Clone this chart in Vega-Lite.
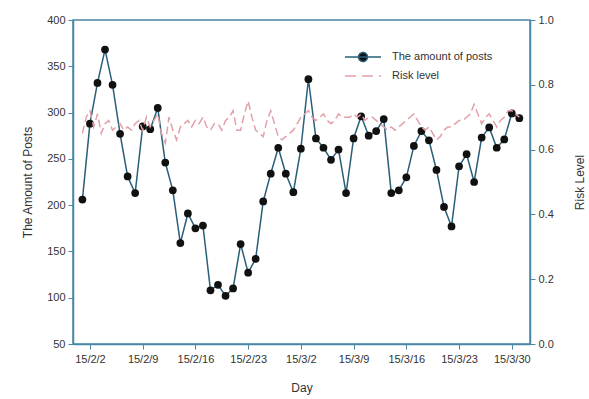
{
  "$schema": "https://vega.github.io/schema/vega-lite/v6.json",
  "width": 457,
  "height": 324,
  "autosize": {"type": "none"},
  "padding": {"left": 73, "top": 20, "right": 59, "bottom": 55},
  "background": "white",
  "config": {
    "font": "Liberation Sans",
    "view": {"stroke": "#4a86a6", "strokeWidth": 1.5},
    "axis": {"grid": false, "domainColor": "#4a86a6", "domainWidth": 1.5, "tickColor": "#4a86a6", "tickSize": 5, "labelColor": "#333333", "titleColor": "#333333", "labelFontSize": 11, "titleFontSize": 12, "titleFontWeight": "normal"}
  },
  "datasets": {
    "posts": [
      {"d": "2015-02-01T00:00:00Z", "v": 206}, {"d": "2015-02-02T00:00:00Z", "v": 288}, {"d": "2015-02-03T00:00:00Z", "v": 332},
      {"d": "2015-02-04T00:00:00Z", "v": 368}, {"d": "2015-02-05T00:00:00Z", "v": 330}, {"d": "2015-02-06T00:00:00Z", "v": 277},
      {"d": "2015-02-07T00:00:00Z", "v": 231}, {"d": "2015-02-08T00:00:00Z", "v": 213}, {"d": "2015-02-09T00:00:00Z", "v": 285},
      {"d": "2015-02-10T00:00:00Z", "v": 282}, {"d": "2015-02-11T00:00:00Z", "v": 305}, {"d": "2015-02-12T00:00:00Z", "v": 246},
      {"d": "2015-02-13T00:00:00Z", "v": 216}, {"d": "2015-02-14T00:00:00Z", "v": 159}, {"d": "2015-02-15T00:00:00Z", "v": 191},
      {"d": "2015-02-16T00:00:00Z", "v": 175}, {"d": "2015-02-17T00:00:00Z", "v": 178}, {"d": "2015-02-18T00:00:00Z", "v": 108},
      {"d": "2015-02-19T00:00:00Z", "v": 114}, {"d": "2015-02-20T00:00:00Z", "v": 102}, {"d": "2015-02-21T00:00:00Z", "v": 110},
      {"d": "2015-02-22T00:00:00Z", "v": 158}, {"d": "2015-02-23T00:00:00Z", "v": 127}, {"d": "2015-02-24T00:00:00Z", "v": 142},
      {"d": "2015-02-25T00:00:00Z", "v": 204}, {"d": "2015-02-26T00:00:00Z", "v": 234}, {"d": "2015-02-27T00:00:00Z", "v": 262},
      {"d": "2015-02-28T00:00:00Z", "v": 234}, {"d": "2015-03-01T00:00:00Z", "v": 214}, {"d": "2015-03-02T00:00:00Z", "v": 261},
      {"d": "2015-03-03T00:00:00Z", "v": 336}, {"d": "2015-03-04T00:00:00Z", "v": 272}, {"d": "2015-03-05T00:00:00Z", "v": 262},
      {"d": "2015-03-06T00:00:00Z", "v": 249}, {"d": "2015-03-07T00:00:00Z", "v": 260}, {"d": "2015-03-08T00:00:00Z", "v": 213},
      {"d": "2015-03-09T00:00:00Z", "v": 272}, {"d": "2015-03-10T00:00:00Z", "v": 296}, {"d": "2015-03-11T00:00:00Z", "v": 275},
      {"d": "2015-03-12T00:00:00Z", "v": 280}, {"d": "2015-03-13T00:00:00Z", "v": 293}, {"d": "2015-03-14T00:00:00Z", "v": 213},
      {"d": "2015-03-15T00:00:00Z", "v": 216}, {"d": "2015-03-16T00:00:00Z", "v": 230}, {"d": "2015-03-17T00:00:00Z", "v": 264},
      {"d": "2015-03-18T00:00:00Z", "v": 280}, {"d": "2015-03-19T00:00:00Z", "v": 270}, {"d": "2015-03-20T00:00:00Z", "v": 238},
      {"d": "2015-03-21T00:00:00Z", "v": 198}, {"d": "2015-03-22T00:00:00Z", "v": 177}, {"d": "2015-03-23T00:00:00Z", "v": 242},
      {"d": "2015-03-24T00:00:00Z", "v": 255}, {"d": "2015-03-25T00:00:00Z", "v": 225}, {"d": "2015-03-26T00:00:00Z", "v": 273},
      {"d": "2015-03-27T00:00:00Z", "v": 284}, {"d": "2015-03-28T00:00:00Z", "v": 262}, {"d": "2015-03-29T00:00:00Z", "v": 271},
      {"d": "2015-03-30T00:00:00Z", "v": 299}, {"d": "2015-03-31T00:00:00Z", "v": 294}
    ],
    "risk": [
      {"d": "2015-02-01T00:00:00Z", "v": 0.65}, {"d": "2015-02-01T12:00:00Z", "v": 0.70}, {"d": "2015-02-02T00:00:00Z", "v": 0.72}, {"d": "2015-02-02T12:00:00Z", "v": 0.67},
      {"d": "2015-02-03T00:00:00Z", "v": 0.71}, {"d": "2015-02-03T12:00:00Z", "v": 0.65}, {"d": "2015-02-04T00:00:00Z", "v": 0.68}, {"d": "2015-02-04T12:00:00Z", "v": 0.69},
      {"d": "2015-02-05T00:00:00Z", "v": 0.66}, {"d": "2015-02-05T12:00:00Z", "v": 0.67}, {"d": "2015-02-06T00:00:00Z", "v": 0.68}, {"d": "2015-02-06T12:00:00Z", "v": 0.66},
      {"d": "2015-02-07T00:00:00Z", "v": 0.67}, {"d": "2015-02-07T12:00:00Z", "v": 0.66}, {"d": "2015-02-08T00:00:00Z", "v": 0.68}, {"d": "2015-02-08T12:00:00Z", "v": 0.69},
      {"d": "2015-02-09T00:00:00Z", "v": 0.66}, {"d": "2015-02-09T12:00:00Z", "v": 0.70}, {"d": "2015-02-10T00:00:00Z", "v": 0.67}, {"d": "2015-02-10T12:00:00Z", "v": 0.69},
      {"d": "2015-02-11T00:00:00Z", "v": 0.71}, {"d": "2015-02-11T12:00:00Z", "v": 0.65}, {"d": "2015-02-12T00:00:00Z", "v": 0.62}, {"d": "2015-02-12T12:00:00Z", "v": 0.70},
      {"d": "2015-02-13T00:00:00Z", "v": 0.66}, {"d": "2015-02-13T12:00:00Z", "v": 0.63}, {"d": "2015-02-14T00:00:00Z", "v": 0.67}, {"d": "2015-02-14T12:00:00Z", "v": 0.68},
      {"d": "2015-02-15T00:00:00Z", "v": 0.69}, {"d": "2015-02-15T12:00:00Z", "v": 0.67}, {"d": "2015-02-16T00:00:00Z", "v": 0.69}, {"d": "2015-02-16T12:00:00Z", "v": 0.68},
      {"d": "2015-02-17T00:00:00Z", "v": 0.70}, {"d": "2015-02-17T12:00:00Z", "v": 0.67}, {"d": "2015-02-18T00:00:00Z", "v": 0.66}, {"d": "2015-02-18T12:00:00Z", "v": 0.68},
      {"d": "2015-02-19T00:00:00Z", "v": 0.68}, {"d": "2015-02-19T12:00:00Z", "v": 0.66}, {"d": "2015-02-20T00:00:00Z", "v": 0.69}, {"d": "2015-02-20T12:00:00Z", "v": 0.70},
      {"d": "2015-02-21T00:00:00Z", "v": 0.72}, {"d": "2015-02-21T12:00:00Z", "v": 0.66}, {"d": "2015-02-22T00:00:00Z", "v": 0.66}, {"d": "2015-02-22T12:00:00Z", "v": 0.71},
      {"d": "2015-02-23T00:00:00Z", "v": 0.75}, {"d": "2015-02-23T12:00:00Z", "v": 0.70}, {"d": "2015-02-24T00:00:00Z", "v": 0.66}, {"d": "2015-02-24T12:00:00Z", "v": 0.65},
      {"d": "2015-02-25T00:00:00Z", "v": 0.64}, {"d": "2015-02-25T12:00:00Z", "v": 0.69}, {"d": "2015-02-26T00:00:00Z", "v": 0.72}, {"d": "2015-02-26T12:00:00Z", "v": 0.68},
      {"d": "2015-02-27T00:00:00Z", "v": 0.64}, {"d": "2015-02-27T12:00:00Z", "v": 0.63}, {"d": "2015-02-28T00:00:00Z", "v": 0.64}, {"d": "2015-02-28T12:00:00Z", "v": 0.65},
      {"d": "2015-03-01T00:00:00Z", "v": 0.66}, {"d": "2015-03-01T12:00:00Z", "v": 0.68}, {"d": "2015-03-02T00:00:00Z", "v": 0.70}, {"d": "2015-03-02T12:00:00Z", "v": 0.71},
      {"d": "2015-03-03T00:00:00Z", "v": 0.72}, {"d": "2015-03-03T12:00:00Z", "v": 0.70}, {"d": "2015-03-04T00:00:00Z", "v": 0.69}, {"d": "2015-03-04T12:00:00Z", "v": 0.70},
      {"d": "2015-03-05T00:00:00Z", "v": 0.71}, {"d": "2015-03-05T12:00:00Z", "v": 0.69}, {"d": "2015-03-06T00:00:00Z", "v": 0.68}, {"d": "2015-03-06T12:00:00Z", "v": 0.69},
      {"d": "2015-03-07T00:00:00Z", "v": 0.71}, {"d": "2015-03-07T12:00:00Z", "v": 0.70}, {"d": "2015-03-08T00:00:00Z", "v": 0.70}, {"d": "2015-03-08T12:00:00Z", "v": 0.70},
      {"d": "2015-03-09T00:00:00Z", "v": 0.71}, {"d": "2015-03-09T12:00:00Z", "v": 0.70}, {"d": "2015-03-10T00:00:00Z", "v": 0.71}, {"d": "2015-03-10T12:00:00Z", "v": 0.69},
      {"d": "2015-03-11T00:00:00Z", "v": 0.70}, {"d": "2015-03-11T12:00:00Z", "v": 0.70}, {"d": "2015-03-12T00:00:00Z", "v": 0.69}, {"d": "2015-03-12T12:00:00Z", "v": 0.68},
      {"d": "2015-03-13T00:00:00Z", "v": 0.67}, {"d": "2015-03-13T12:00:00Z", "v": 0.66}, {"d": "2015-03-14T00:00:00Z", "v": 0.67}, {"d": "2015-03-14T12:00:00Z", "v": 0.66},
      {"d": "2015-03-15T00:00:00Z", "v": 0.67}, {"d": "2015-03-15T12:00:00Z", "v": 0.68}, {"d": "2015-03-16T00:00:00Z", "v": 0.69}, {"d": "2015-03-16T12:00:00Z", "v": 0.70},
      {"d": "2015-03-17T00:00:00Z", "v": 0.71}, {"d": "2015-03-17T12:00:00Z", "v": 0.69}, {"d": "2015-03-18T00:00:00Z", "v": 0.67}, {"d": "2015-03-18T12:00:00Z", "v": 0.66},
      {"d": "2015-03-19T00:00:00Z", "v": 0.67}, {"d": "2015-03-19T12:00:00Z", "v": 0.65}, {"d": "2015-03-20T00:00:00Z", "v": 0.63}, {"d": "2015-03-20T12:00:00Z", "v": 0.64},
      {"d": "2015-03-21T00:00:00Z", "v": 0.66}, {"d": "2015-03-21T12:00:00Z", "v": 0.67}, {"d": "2015-03-22T00:00:00Z", "v": 0.67}, {"d": "2015-03-22T12:00:00Z", "v": 0.68},
      {"d": "2015-03-23T00:00:00Z", "v": 0.69}, {"d": "2015-03-23T12:00:00Z", "v": 0.69}, {"d": "2015-03-24T00:00:00Z", "v": 0.70}, {"d": "2015-03-24T12:00:00Z", "v": 0.71},
      {"d": "2015-03-25T00:00:00Z", "v": 0.74}, {"d": "2015-03-25T12:00:00Z", "v": 0.71}, {"d": "2015-03-26T00:00:00Z", "v": 0.68}, {"d": "2015-03-26T12:00:00Z", "v": 0.70},
      {"d": "2015-03-27T00:00:00Z", "v": 0.71}, {"d": "2015-03-27T12:00:00Z", "v": 0.69}, {"d": "2015-03-28T00:00:00Z", "v": 0.67}, {"d": "2015-03-28T12:00:00Z", "v": 0.69},
      {"d": "2015-03-29T00:00:00Z", "v": 0.70}, {"d": "2015-03-29T12:00:00Z", "v": 0.72}, {"d": "2015-03-30T00:00:00Z", "v": 0.72}, {"d": "2015-03-30T12:00:00Z", "v": 0.71},
      {"d": "2015-03-31T00:00:00Z", "v": 0.70}
    ]
  },
  "encoding": {
    "x": {
      "field": "d",
      "type": "temporal",
      "scale": {
        "type": "utc",
        "domain": [
          {"year": 2015, "month": 1, "date": 30, "hours": 18, "utc": true},
          {"year": 2015, "month": 4, "date": 1, "hours": 10, "utc": true}
        ]
      },
      "axis": {
        "title": "Day",
        "titlePadding": 18,
        "labelPadding": 4,
        "values": [
          {"year": 2015, "month": 2, "date": 2, "utc": true},
          {"year": 2015, "month": 2, "date": 9, "utc": true},
          {"year": 2015, "month": 2, "date": 16, "utc": true},
          {"year": 2015, "month": 2, "date": 23, "utc": true},
          {"year": 2015, "month": 3, "date": 2, "utc": true},
          {"year": 2015, "month": 3, "date": 9, "utc": true},
          {"year": 2015, "month": 3, "date": 16, "utc": true},
          {"year": 2015, "month": 3, "date": 23, "utc": true},
          {"year": 2015, "month": 3, "date": 30, "utc": true}
        ],
        "labelExpr": "utcFormat(datum.value, '%y/%-m/%-d')",
        "labelFlush": false,
        "labelOverlap": false
      }
    }
  },
  "layer": [
    {
      "data": {"name": "posts"},
      "encoding": {
        "y": {
          "field": "v",
          "type": "quantitative",
          "scale": {"domain": [50, 400], "nice": false, "zero": false},
          "axis": {"title": "The Amount of Posts", "values": [50, 100, 150, 200, 250, 300, 350, 400], "titlePadding": 12, "labelPadding": 3}
        }
      },
      "layer": [
        {
          "mark": {"type": "line", "strokeWidth": 1.5},
          "encoding": {
            "color": {
              "datum": "The amount of posts",
              "scale": {"domain": ["The amount of posts", "Risk level"], "range": ["#2a5f78", "#e2a0a8"]},
              "legend": {
                "orient": "none",
                "legendX": 284,
                "legendY": 31,
                "title": null,
                "symbolSize": 100,
                "symbolStrokeWidth": 1.5,
                "labelFontSize": 11,
                "labelColor": "#333333",
                "labelOffset": 23,
                "rowPadding": 5,
                "encode": {
                  "symbols": {
                    "update": {
                      "shape": {"signal": "datum.value == 'Risk level' ? 'M-3.6,0H3.6' : 'M-3.6,0H3.6M0.9,0A0.9,0.9 0 1,1 -0.9,0A0.9,0.9 0 1,1 0.9,0Z'"},
                      "fill": {"signal": "datum.value == 'Risk level' ? 'transparent' : '#111111'"},
                      "strokeDash": {"signal": "datum.value == 'Risk level' ? [11, 6] : [1, 0]"}
                    }
                  }
                }
              }
            }
          }
        },
        {
          "mark": {"type": "circle", "size": 60, "color": "#111111", "opacity": 1}
        }
      ]
    },
    {
      "data": {"name": "risk"},
      "mark": {"type": "line", "strokeWidth": 1.5, "strokeDash": [8, 4]},
      "encoding": {
        "y": {
          "field": "v",
          "type": "quantitative",
          "scale": {"domain": [0, 1], "nice": false},
          "axis": {"orient": "right", "title": "Risk Level", "titleAngle": 270, "format": ".1f", "values": [0, 0.2, 0.4, 0.6, 0.8, 1.0], "titlePadding": 33, "labelPadding": 3}
        },
        "color": {"datum": "Risk level"}
      }
    }
  ],
  "resolve": {"scale": {"y": "independent"}}
}
